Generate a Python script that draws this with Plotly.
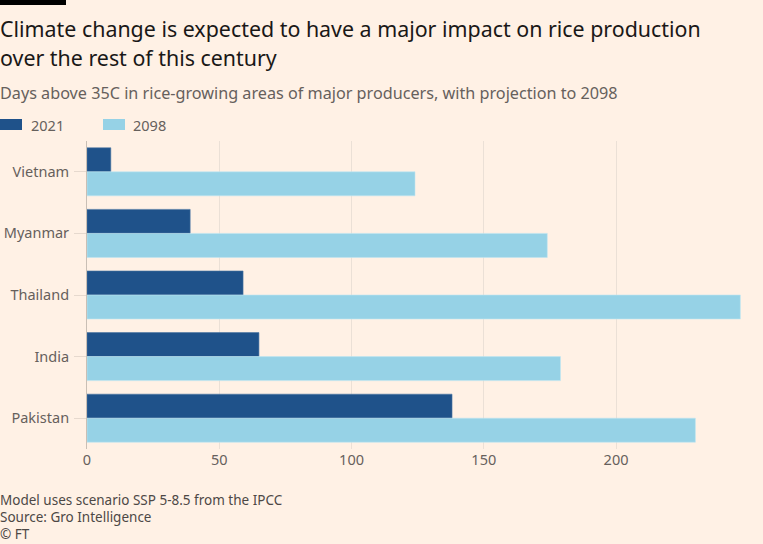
import plotly.graph_objects as go

countries = ["Vietnam", "Myanmar", "Thailand", "India", "Pakistan"]
days_2021 = [9, 39, 59, 65, 138]
days_2098 = [124, 174, 247, 179, 230]
x_ticks = [0, 50, 100, 150, 200]

FONT = "Noto Sans"
BG = "#FFF1E5"
DARK = "#1f528a"
LIGHT = "#96d2e6"

fig = go.Figure()
fig.add_trace(go.Bar(y=countries, x=days_2021, name="2021", orientation="h",
                     marker=dict(color=DARK, line=dict(color="#4a76a3", width=0.6))))
fig.add_trace(go.Bar(y=countries, x=days_2098, name="2098", orientation="h",
                     marker=dict(color=LIGHT, line=dict(color="#bfe6f2", width=0.6))))

W, H = 763, 544
L, R, T, B = 87, 20, 141, 95
pw, ph = W - L - R, H - T - B

def px(x):
    return (x - L) / pw

def py(y):
    return (H - B - y) / ph

fig.update_layout(
    width=W, height=H,
    margin=dict(l=L, r=R, t=T, b=B),
    paper_bgcolor=BG, plot_bgcolor=BG,
    barmode="group", bargap=0.22, bargroupgap=0,
    showlegend=False,
    font=dict(family=FONT, color="#66605c", size=14),
    xaxis=dict(range=[0, 248], tickvals=x_ticks, showgrid=True, gridcolor="#ebe0d6",
               gridwidth=1, zeroline=False, showline=False, ticks="", automargin=False,
               tickfont=dict(size=14.5, color="#66605c")),
    yaxis=dict(categoryorder="array", categoryarray=countries, autorange="reversed",
               showline=True, linecolor="#c9bfb5", linewidth=1, ticks="outside",
               ticklen=12, tickcolor="#e6d9ce", showgrid=False, automargin=False,
               ticklabelstandoff=2,
               tickfont=dict(size=14.5, color="#66605c")),
)

shapes = [
    dict(type="rect", xref="paper", yref="paper", x0=px(0), x1=px(66), y0=py(0), y1=py(5),
         fillcolor="#000000", line=dict(width=0)),
    dict(type="rect", xref="paper", yref="paper", x0=px(0), x1=px(22), y0=py(119), y1=py(130),
         fillcolor=DARK, line=dict(width=0)),
    dict(type="rect", xref="paper", yref="paper", x0=px(103), x1=px(125), y0=py(119), y1=py(130),
         fillcolor=LIGHT, line=dict(width=0)),
]
fig.update_layout(shapes=shapes)

ann = []
def text(x, y, s, size, color):
    ann.append(dict(xref="paper", yref="paper", x=px(x), y=py(y), text=s, showarrow=False,
                    xanchor="left", yanchor="middle", borderpad=0,
                    font=dict(family=FONT, size=size, color=color)))

text(-1, 28, "Climate change is expected to have a major impact on rice production", 21.4, "#1a1817")
text(-1, 57, "over the rest of this century", 21.4, "#1a1817")
text(-1, 93, "Days above 35C in rice-growing areas of major producers, with projection to 2098", 16.2, "#66605c")
text(30, 125, "2021", 14.5, "#66605c")
text(132, 125, "2098", 14.5, "#66605c")
text(-1, 500, "Model uses scenario SSP 5-8.5 from the IPCC", 13.5, "#4d4845")
text(-1, 517, "Source: Gro Intelligence", 13.5, "#4d4845")
text(-1, 534, "© FT", 13.5, "#4d4845")
fig.update_layout(annotations=ann)

fig.write_html("out.html", config={"displayModeBar": False},
               post_script="document.body.style.margin='0';document.body.style.padding='0';document.body.style.overflow='hidden';")
